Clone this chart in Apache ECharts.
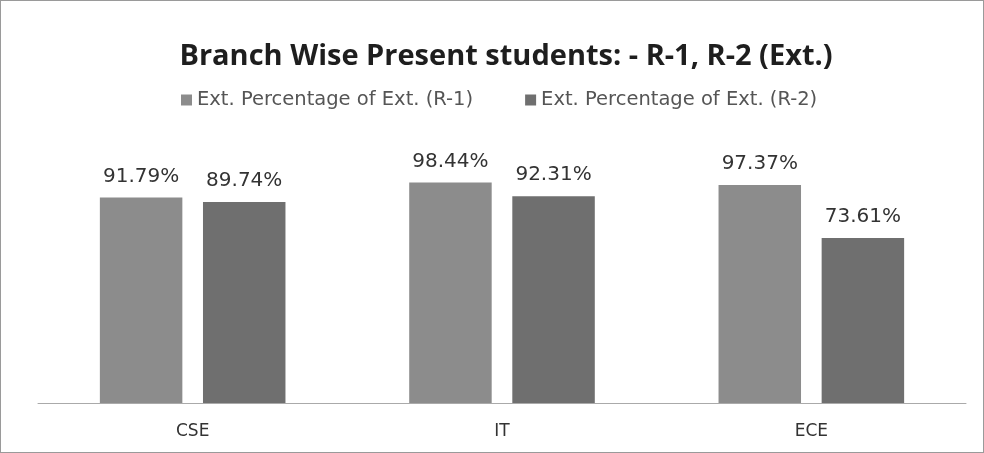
<!DOCTYPE html>
<html>
<head>
<meta charset="utf-8">
<script src="https://cdn.jsdelivr.net/npm/echarts@6/dist/echarts.min.js"></script>
<style>
  html, body { margin: 0; padding: 0; background: #fff; }
  #chart { width: 984px; height: 453px; box-sizing: border-box; border: 1px solid #9a9a9a; }
</style>
</head>
<body>
<div id="chart"></div>
<script>
// data
const branches = ['CSE', 'IT', 'ECE']
const r1Values = [91.79, 98.44, 97.37]
const r2Values = [89.74, 92.31, 73.61]
const seriesNames = ['Ext. Percentage of Ext. (R-1)', 'Ext. Percentage of Ext. (R-2)']

const chart = echarts.init(document.getElementById('chart'))

const labelStyle = {
  show: true,
  position: 'top',
  distance: 11,
  fontFamily: 'DejaVu Sans',
  fontSize: 20,
  color: '#333',
  formatter: p => p.value.toFixed(2) + '%'
}

chart.setOption({
  animation: false,
  backgroundColor: '#fff',
  title: {
    text: 'Branch Wise Present students: - R-1, R-2 (Ext.)',
    left: 500,
    textAlign: 'center',
    top: 36,
    textStyle: { fontFamily: 'Open Sans', fontWeight: 'bold', fontSize: 29, color: '#1e1e1e' }
  },
  legend: {
    top: 84,
    left: 175,
    itemWidth: 11,
    itemHeight: 11,
    itemGap: 52,
    icon: 'rect',
    textStyle: { fontFamily: 'DejaVu Sans', fontSize: 19.5, color: '#555' }
  },
  grid: { left: 37, right: 17, top: 178, bottom: 49 },
  xAxis: {
    type: 'category',
    data: branches,
    axisTick: { show: false },
    axisLine: { lineStyle: { color: '#aaa', width: 1 } },
    axisLabel: { margin: 20, fontFamily: 'DejaVu Sans', fontSize: 17, color: '#333' }
  },
  yAxis: {
    type: 'value',
    min: 0,
    max: 100,
    show: false,
    splitLine: { show: false }
  },
  series: [
    {
      name: seriesNames[0],
      type: 'bar',
      data: r1Values,
      barGap: '25%',
      barCategoryGap: '40%',
      itemStyle: { color: '#8c8c8c' },
      label: labelStyle
    },
    {
      name: seriesNames[1],
      type: 'bar',
      data: r2Values,
      itemStyle: { color: '#6f6f6f' },
      label: labelStyle
    }
  ]
})
</script>
</body>
</html>
